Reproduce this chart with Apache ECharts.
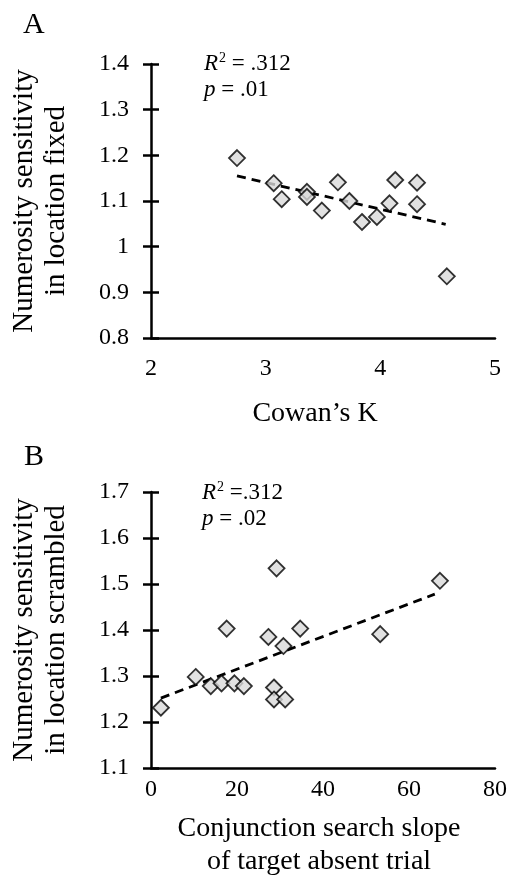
<!DOCTYPE html>
<html>
<head>
<meta charset="utf-8">
<script src="https://cdn.jsdelivr.net/npm/echarts@6/dist/echarts.min.js"></script>
<style>
  html, body { margin: 0; padding: 0; background: #fff; }
  #chart { width: 515px; height: 891px; }
</style>
</head>
<body>
<div id="chart"></div>
<script>
// panel A: Cowan's K vs numerosity sensitivity (location fixed)
var cowanK = [2.75, 3.07, 3.14, 3.36, 3.36, 3.49, 3.63, 3.73, 3.84, 3.97, 4.08, 4.13, 4.32, 4.32, 4.58];
var sensFixed = [1.194, 1.139, 1.104, 1.120, 1.109, 1.079, 1.141, 1.100, 1.054, 1.065, 1.095, 1.146, 1.140, 1.093, 0.935];
var trendAX = [2.75, 4.57];
var trendAY = [1.155, 1.049];

// panel B: conjunction search slope vs numerosity sensitivity (location scrambled)
var searchSlope = [2.3, 10.4, 13.9, 16.4, 19.4, 21.6, 17.6, 27.3, 30.8, 34.7, 28.6, 28.6, 31.2, 53.3, 67.2, 29.2];
var sensScrambled = [1.231, 1.298, 1.278, 1.284, 1.284, 1.278, 1.403, 1.385, 1.365, 1.403, 1.275, 1.249, 1.249, 1.391, 1.507, 1.534];
var trendBX = [2.3, 66.0];
var trendBY = [1.252, 1.478];

var serif = "Liberation Serif";
var myChart = echarts.init(document.getElementById("chart"));

function pairs(xs, ys) {
  return xs.map(function(x, i) { return [x, ys[i]]; });
}

// y axis with outside ticks + twin with inside ticks, gives crossing ticks
function yAxes(gridIndex, min, max, name) {
  return [
    {
      type: "value",
      gridIndex: gridIndex,
      min: min,
      max: max,
      interval: 0.1,
      name: name,
      nameLocation: "middle",
      nameRotate: 90,
      nameGap: 79,
      nameTextStyle: { fontFamily: serif, fontSize: 29, color: "#000", lineHeight: 32 },
      axisLine: { show: true, lineStyle: { color: "#000", width: 2.5 } },
      axisTick: { show: true, length: 8, lineStyle: { color: "#000", width: 2.5 } },
      axisLabel: { fontFamily: serif, fontSize: 24, color: "#000", margin: 22 },
      splitLine: { show: false }
    },
    {
      type: "value",
      gridIndex: gridIndex,
      min: min,
      max: max,
      interval: 0.1,
      position: "left",
      axisLine: { show: false },
      axisTick: { show: true, inside: true, length: 8, lineStyle: { color: "#000", width: 2.5 } },
      axisLabel: { show: false },
      splitLine: { show: false }
    }
  ];
}

var scatterStyle = {
  type: "scatter",
  symbol: "diamond",
  symbolSize: 16,
  itemStyle: { color: "#d9d9d9", borderColor: "#000", borderWidth: 1.8 },
  z: 3
};

var trendStyle = {
  type: "line",
  symbol: "none",
  lineStyle: { color: "#000", width: 2.8, type: [9, 6] },
  z: 2
};

var richText = {
  i: { fontFamily: serif, fontSize: 23, fontStyle: "italic", lineHeight: 26 },
  s: { fontFamily: serif, fontSize: 14, verticalAlign: "top", lineHeight: 26, padding: [0, 0, 8, 1] },
  n: { fontFamily: serif, fontSize: 23, lineHeight: 26 }
};

var option = {
  animation: false,
  title: [
    { text: "A", left: 18, top: 5, textStyle: { fontFamily: serif, fontSize: 30, fontWeight: "normal", color: "#000" } },
    { text: "B", left: 19, top: 437, textStyle: { fontFamily: serif, fontSize: 30, fontWeight: "normal", color: "#000" } }
  ],
  grid: [
    { left: 151, top: 64, width: 344, height: 274 },
    { left: 151, top: 492, width: 344, height: 276 }
  ],
  xAxis: [
    {
      type: "value",
      gridIndex: 0,
      min: 2,
      max: 5,
      interval: 1,
      name: "Cowan\u2019s K",
      nameLocation: "middle",
      nameGap: 62,
      nameTextStyle: { fontFamily: serif, fontSize: 28, color: "#000", padding: [0, 16, 0, 0] },
      axisLine: { lineStyle: { color: "#000", width: 2.5 } },
      axisTick: { show: false },
      axisLabel: { fontFamily: serif, fontSize: 24, color: "#000", margin: 19 },
      splitLine: { show: false }
    },
    {
      type: "value",
      gridIndex: 1,
      min: 0,
      max: 80,
      interval: 20,
      name: "Conjunction search slope\nof target absent trial",
      nameLocation: "middle",
      nameGap: 44,
      nameTextStyle: { fontFamily: serif, fontSize: 28, color: "#000", lineHeight: 33, padding: [0, 8, 0, 0] },
      axisLine: { lineStyle: { color: "#000", width: 2.5 } },
      axisTick: { show: false },
      axisLabel: { fontFamily: serif, fontSize: 24, color: "#000", margin: 10 },
      splitLine: { show: false }
    }
  ],
  yAxis: yAxes(0, 0.8, 1.4, "Numerosity sensitivity\nin location fixed")
    .concat(yAxes(1, 1.1, 1.7, "Numerosity sensitivity\nin location scrambled")),
  graphic: [
    {
      type: "text",
      left: 204,
      top: 51,
      style: {
        text: "{i|R}{s|2}{n| = .312}\n{i|p}{n| = .01}",
        fill: "#000",
        rich: richText
      }
    },
    {
      type: "text",
      left: 202,
      top: 480,
      style: {
        text: "{i|R}{s|2}{n| =.312}\n{i|p}{n| = .02}",
        fill: "#000",
        rich: richText
      }
    }
  ],
  series: [
    Object.assign({}, trendStyle, { xAxisIndex: 0, yAxisIndex: 0, data: pairs(trendAX, trendAY) }),
    Object.assign({}, scatterStyle, { xAxisIndex: 0, yAxisIndex: 0, data: pairs(cowanK, sensFixed) }),
    Object.assign({}, trendStyle, { xAxisIndex: 1, yAxisIndex: 2, data: pairs(trendBX, trendBY) }),
    Object.assign({}, scatterStyle, { xAxisIndex: 1, yAxisIndex: 2, data: pairs(searchSlope, sensScrambled) })
  ]
};

myChart.setOption(option);
</script>
</body>
</html>
